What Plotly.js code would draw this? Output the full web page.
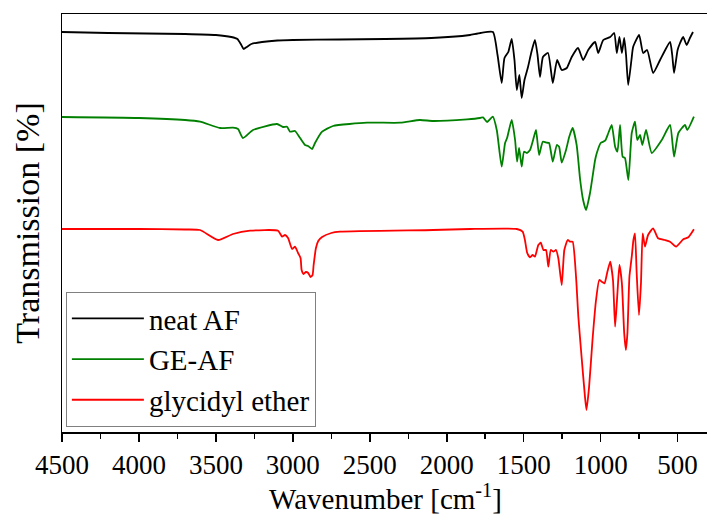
<!DOCTYPE html>
<html>
<head>
<meta charset="utf-8">
<script src="https://cdn.plot.ly/plotly-3.0.1.min.js"></script>
<style>html,body{margin:0;padding:0;overflow:hidden;background:#fff;}#chart{width:709px;height:515px;}</style>
</head>
<body>
<div id="chart"></div>
<script>
// Wavenumbers (cm^-1) and transmission (arbitrary offset units)
const neatAF_wn = [4500,4200,3700,3500,3400,3360,3335,3320,3300,3270,3200,3100,3000,2700,2400,2100,1900,1849,1780,1700,1670,1643,1625,1600,1578,1560,1545,1528,1513,1495,1472,1450,1427,1410,1394,1375,1342,1311,1283,1253,1220,1188,1147,1114,1081,1036,1016,983,938,912,895,878,862,847,835,821,800,789,750,724,698,659,614,549,535,523,500,484,464,441,420,400];
const neatAF_T  = [400,399,398,397,395,393,387,383,385,388,390,391.5,392,392.5,393,394,396,397,399,400,377,349,374,380,393,372,342,357,334,352,365,380,392,377,355,375,379,349,372,362,364,375,384,372,382,390,379,392,395,399,379,395,379,394,377,347,372,385,397,379,382,359,372,390,377,359,382,389,395,387,394,400];

const geAF_wn = [4500,4000,3700,3603,3473,3389,3356,3324,3259,3103,3064,3038,3018,2986,2953,2921,2901,2875,2856,2810,2739,2518,2303,2174,2089,1868,1784,1764,1738,1701,1675,1643,1621,1608,1578,1556,1543,1530,1513,1498,1480,1459,1439,1420,1400,1376,1350,1335,1311,1285,1270,1253,1225,1204,1182,1156,1133,1114,1095,1069,1036,1025,1000,971,950,928,906,891,874,857,842,820,798,777,762,744,729,705,668,603,549,523,495,452,437,394];
const geAF_T  = [315,314,312,310.3,304,304.3,303,294,302,308,305,305.3,300.3,301,294,287,286,283,289,300.3,306,309.3,309.3,312,311,312.7,314,314.7,310,315.3,302,265.3,289,294,312,292,270.3,284,265.3,280.3,279,282,292,302,277,290.3,289.3,289,270.3,287,285.3,269.3,282,295.3,304,287,252,232,222,239,272,279,289,291.3,299,307,285.3,280.3,307,275.3,274,252,299,310.3,292,297,287,302,279,292,307,275.3,299,307,302,315.3];

const glyEther_wn = [4500,4000,3700,3603,3486,3389,3278,3096,3070,3051,3031,3005,2986,2966,2950,2943,2930,2915,2900,2885,2872,2865,2850,2835,2810,2750,2694,2089,1849,1545,1507,1492,1477,1459,1442,1427,1405,1389,1372,1355,1340,1324,1307,1290,1275,1253,1236,1214,1199,1182,1160,1145,1124,1102,1092,1075,1053,1030,1009,993,975,958,938,920,906,891,878,862,847,836,826,813,798,787,777,766,751,738,727,712,692,659,627,584,549,510,463,430,394];
const glyEther_T  = [203,203,202.5,202,192,198,201.3,201.3,195.3,197,194,183,185.3,179,174,162,158,160,159,155,157,167,184,191,195,199,200.3,202,203,203,200.3,192,179,174.7,177,175.3,187,189.3,182,182,165.3,182,180.3,182,173.7,147,182,192,190.3,190.3,155.3,115.3,75.3,35.3,22,45.3,92,132,152,150.3,148.7,159,170.3,152,105.3,139,167,148.7,99,82,99,155.3,175.3,192,198.7,159,117,149,198.7,185.3,197,203.7,193.7,192,190.3,185.3,192.7,194.7,202.7];

const seriesNames = ['neat AF','GE-AF','glycidyl ether'];
const seriesColors = ['#000000','#008000','#ff0000'];
const tickValues = [4500,4000,3500,3000,2500,2000,1500,1000,500];

const font = '"Liberation Serif", "Times New Roman", serif';
const traces = [
  {x: neatAF_wn, y: neatAF_T, name: seriesNames[0]},
  {x: geAF_wn, y: geAF_T, name: seriesNames[1]},
  {x: glyEther_wn, y: glyEther_T, name: seriesNames[2]}
].map((t,i)=>Object.assign(t,{type:'scatter',mode:'lines',line:{color:seriesColors[i],width:1.8,shape:'spline',smoothing:0.5}}));

const layout = {
  width: 709, height: 515,
  margin: {l:62, r:0, t:14, b:83},
  font: {family: font, color:'#000'},
  paper_bgcolor:'#fff', plot_bgcolor:'#fff',
  showlegend: true,
  legend: {x:0.006, y:0.012, xanchor:'left', yanchor:'bottom', bgcolor:'#fff', bordercolor:'#808080', borderwidth:1,
           font:{family:font, size:29, color:'#000'}, tracegroupgap:0, itemwidth:72},
  xaxis: {range:[4500,296], autorange:false, showgrid:false, zeroline:false,
          showline:true, linecolor:'#000', linewidth:1.5, mirror:true,
          ticks:'outside', ticklen:8, tickwidth:1.5, tickcolor:'#000',
          tickmode:'array', tickvals:tickValues, ticktext:tickValues.map(String),
          minor:{dtick:250, ticks:'outside', ticklen:5, tickwidth:1.5, tickcolor:'#000', showgrid:false},
          tickfont:{family:font, size:27, color:'#000'},
          title:{text:'Wavenumber [cm<sup>-1</sup>]', font:{family:font, size:29, color:'#000'}, standoff:11}},
  yaxis: {range:[0,418], autorange:false, showgrid:false, zeroline:false,
          showline:true, linecolor:'#000', linewidth:1.5, mirror:false,
          ticks:'', showticklabels:false,
          title:{text:'Transmission [%]', font:{family:font, size:34, color:'#000'}, standoff:10}}
};
Plotly.newPlot('chart', traces, layout, {displayModeBar:false, staticPlot:true});
</script>
</body>
</html>
